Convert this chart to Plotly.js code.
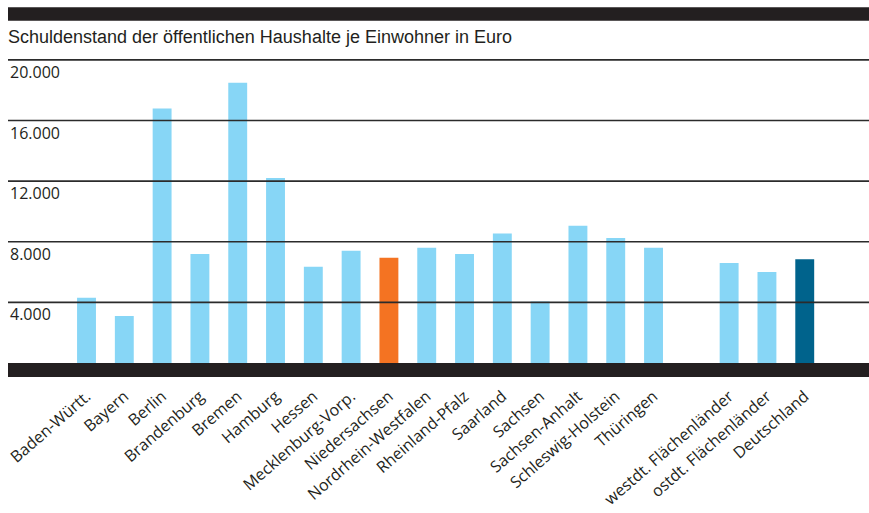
<!DOCTYPE html>
<html>
<head>
<meta charset="utf-8">
<script src="https://cdn.plot.ly/plotly-3.0.1.min.js"></script>
<style>html,body{margin:0;padding:0;background:#fff;}#chart{width:869px;height:513px;}</style>
</head>
<body>
<div id="chart"></div>
<script>
// Data
const categories = ["Baden-Württ.", "Bayern", "Berlin", "Brandenburg", "Bremen", "Hamburg", "Hessen",
  "Mecklenburg-Vorp.", "Niedersachsen", "Nordrhein-Westfalen", "Rheinland-Pfalz", "Saarland", "Sachsen",
  "Sachsen-Anhalt", "Schleswig-Holstein", "Thüringen", " ", "westdt. Flächenländer", "ostdt. Flächenländer", "Deutschland"];
const debtPerCapita = [4300, 3100, 16800, 7200, 18500, 12200, 6350, 7400, 6950, 7600, 7200, 8550, 4050,
  9050, 8250, 7600, null, 6600, 6000, 6850];
const yTickValues = [4000, 8000, 12000, 16000, 20000];
const yTickLabels = ["4.000", "8.000", "12.000", "16.000", "20.000"];
const chartTitle = "Schuldenstand der öffentlichen Haushalte je Einwohner in Euro";

// Styling
const W = 869, H = 513;
const mTop = 59.1, mBottom = 136.4, mLeft = 8, mRight = 0;
const plotH = H - mTop - mBottom;
const dark = "#231f20";
const colorFor = name => name === "Niedersachsen" ? "#f47322" : (name === "Deutschland" ? "#00638c" : "#87d6f6");
const pyToPaper = py => (H - mBottom - py) / plotH;

const trace = {
  type: "bar",
  x: categories,
  y: debtPerCapita,
  marker: {color: categories.map(colorFor), line: {width: 0}},
  hoverinfo: "x+y"
};

const shapes = [];
// top dark band
shapes.push({type: "rect", xref: "paper", yref: "paper", x0: 0, x1: 1, y0: pyToPaper(21), y1: pyToPaper(7.5),
  fillcolor: dark, line: {width: 0}, layer: "above"});
// grid lines above bars
yTickValues.forEach(v => shapes.push({type: "line", xref: "paper", yref: "y", x0: 0, x1: 1, y0: v, y1: v,
  line: {color: "#2b2b2b", width: 1.6}, layer: "above"}));
// base band
shapes.push({type: "rect", xref: "paper", yref: "y", x0: 0, x1: 1, y0: -925, y1: 0,
  fillcolor: dark, line: {width: 0}, layer: "above"});

const annotations = yTickValues.map((v, i) => ({
  xref: "paper", yref: "y", x: 0, y: v, xanchor: "left", yanchor: "top", yshift: 1,
  text: yTickLabels[i], showarrow: false,
  font: {family: "Open Sans, sans-serif", size: 16, color: dark}
}));

const layout = {
  width: W, height: H,
  margin: {l: mLeft, r: mRight, t: mTop, b: mBottom, pad: 0},
  paper_bgcolor: "#fff", plot_bgcolor: "#fff",
  showlegend: false,
  bargap: 0.5,
  title: {text: chartTitle, xref: "container", yref: "container", x: 8 / W, xanchor: "left",
    y: 1 - 37 / H, yanchor: "middle",
    font: {family: "Liberation Sans Narrow, Arial Narrow, sans-serif", size: 18, color: dark}},
  xaxis: {type: "category", range: [-2.077, 20.70], tickangle: -41, showgrid: false, zeroline: false,
    showline: false, ticks: "", ticklabelstandoff: 6,
    tickfont: {family: "Open Sans, sans-serif", size: 16, color: dark},
    fixedrange: true, automargin: false},
  yaxis: {range: [-925, 20060], showgrid: false, zeroline: false, showticklabels: false, ticks: "",
    showline: false, fixedrange: true},
  shapes: shapes,
  annotations: annotations
};

Plotly.newPlot("chart", [trace], layout, {displayModeBar: false, staticPlot: true});
</script>
</body>
</html>
